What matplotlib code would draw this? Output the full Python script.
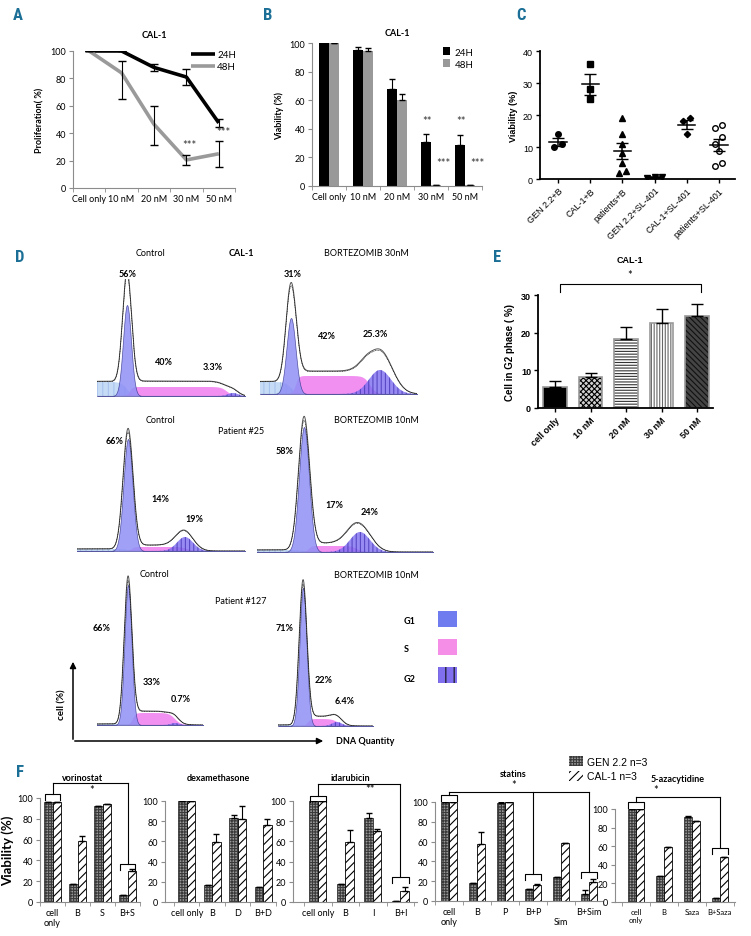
import numpy as np
import matplotlib.pyplot as plt
from matplotlib.patches import Patch, Rectangle

plt.rcParams['font.family'] = ['Lato', 'DejaVu Sans']
plt.rcParams['font.size'] = 6.5
plt.rcParams['hatch.linewidth'] = 0.8

# ---------------- data ----------------
doses = ['Cell only', '10 nM', '20 nM', '30 nM', '50 nM']

# A - proliferation
prolif_24h = [100, 100, 88, 81, 47.5]
prolif_24h_err = [0, 0, 2.5, 5.5, 3]
prolif_48h = [100, 84, 46.5, 20.5, 25]
prolif_48h_lo = [0, 19, 15, 4, 10]
prolif_48h_hi = [0, 9, 13.5, 3.5, 9.5]

# B - viability
viab_24h = [100, 95, 68, 31, 28.5]
viab_24h_err = [0, 2.5, 7, 5.5, 7]
viab_48h = [100, 94.5, 60, 1, 1]
viab_48h_err = [0, 2, 4.5, 0, 0]

# C - scatter
c_groups = ['GEN 2.2+B', 'CAL-1+B', 'patients+B', 'GEN 2.2+SL-401', 'CAL-1+SL-401', 'patients+SL-401']
c_gen_b = [14, 10, 11]
c_cal_b = [36, 28, 25]
c_pat_b = [19, 14, 11, 8, 5, 1.8, 2.4]
c_gen_sl = [0.6, 0.3, 0.6]
c_cal_sl = [19, 18, 14]
c_pat_sl = [17, 16, 13, 11, 8.75, 5, 4]

# D - cell cycle histograms (channel / counts)
hist_g1_pos = [30, 31, 51, 47, 31, 25]
hist_g1_sig = [4, 4.5, 4.5, 5, 3.5, 3.5]
hist_g1_fill = [91, 76, 112, 125, 140, 138]
hist_g1_line = [112, 101, 120, 133, 146, 144]
hist_s_fill = [9, 18, 4, 6, 12, 7]
hist_s_line = [15, 23, 6, 9, 14, 10]
hist_s_from = [33, 36, 55, 52, 36, 30]
hist_s_to = [130, 110, 110, 100, 78, 60]
hist_g2_pos = [136, 120, 108, 103, 78, 59]
hist_g2_fill = [3, 24, 14, 20, 2, 4]
hist_g2_line = [5, 43, 17, 26, 3, 5]
hist_g2_sig = [5, 11, 8, 10, 4, 5]
hist_debris = [14, 12, 2, 2, 1, 1]

# E - G2 phase
g2_phase = [5.6, 8.2, 18.2, 22.5, 24.5]
g2_phase_err = [1.5, 1.1, 3.4, 3.8, 3.1]
e_labels = ['cell only', '10 nM', '20 nM', '30 nM', '50 nM']

# F - drug combinations
vor_labels = ['cell\nonly', 'B', 'S', 'B+S']
vor_gen = [96, 17, 92, 7]
vor_cal = [96, 59, 94, 30]
vor_gen_err = [0, 0, 0, 0]
vor_cal_err = [0, 4, 0, 2]

dex_labels = ['cell only', 'B', 'D', 'B+D']
dex_gen = [100, 17, 83, 15]
dex_cal = [100, 59, 82, 76]
dex_gen_err = [0, 0, 3, 0]
dex_cal_err = [0, 8, 13, 6]

ida_labels = ['cell only', 'B', 'I', 'B+I']
ida_gen = [100, 18, 83, 0.5]
ida_cal = [100, 59, 70, 11]
ida_gen_err = [0, 0, 5, 0]
ida_cal_err = [0, 12, 2, 4]

sta_labels = ['cell\nonly', 'B', 'P', 'B+P', '\nSim', 'B+Sim']
sta_gen = [100, 18, 99, 12, 24, 7]
sta_cal = [100, 58, 100, 16, 59, 19]
sta_gen_err = [0, 0, 1, 0, 0, 4]
sta_cal_err = [0, 12, 0, 1, 0, 3]

aza_labels = ['cell\nonly', 'B', 'Saza', 'B+Saza']
aza_gen = [100, 28, 91, 4]
aza_cal = [100, 59, 87, 48]
aza_gen_err = [0, 0, 1, 0]
aza_cal_err = [0, 0, 0, 0]

# ---------------- figure ----------------
W, H = 751, 937
fig = plt.figure(figsize=(7.51, 9.37), dpi=100)
teal = '#1b6f96'


def px_axes(x0, y0, x1, y1):
    return fig.add_axes([x0 / W, 1 - y1 / H, (x1 - x0) / W, (y1 - y0) / H])


def excel_style(ax, n, labels, fs=6.5):
    for s in ['top', 'right']:
        ax.spines[s].set_visible(False)
    for s in ['left', 'bottom']:
        ax.spines[s].set_color('#8c8c8c')
        ax.spines[s].set_linewidth(0.8)
    ax.set_xticks(range(n))
    ax.set_xticklabels(labels, fontsize=fs)
    ax.set_xticks(np.arange(n + 1) - 0.5, minor=True)
    ax.tick_params(axis='x', which='major', length=0, pad=4)
    ax.tick_params(axis='x', which='minor', length=3, color='#8c8c8c')
    ax.tick_params(axis='y', length=3, color='#8c8c8c', labelsize=fs, pad=2)


# ---- A ----
ax = px_axes(73, 52, 235, 189)
x = np.arange(len(doses))
ax.plot(x, prolif_24h, color='black', lw=2.6, label='24H', solid_capstyle='butt')
ax.plot(x, prolif_48h, color='#9a9a9a', lw=2.6, label='48H', solid_capstyle='butt')
ax.errorbar(x, prolif_24h, yerr=prolif_24h_err, fmt='none', ecolor='black', elinewidth=0.8, capsize=3)
ax.errorbar(x, prolif_48h, yerr=[prolif_48h_lo, prolif_48h_hi], fmt='none', ecolor='black',
            elinewidth=0.8, capsize=3)
ax.set_xlim(-0.5, 4.5)
ax.set_ylim(0, 100)
ax.set_yticks(range(0, 101, 20))
excel_style(ax, 5, doses)
ax.set_ylabel('Proliferation( %)', fontweight='bold', fontsize=6.5)
ax.set_title('CAL-1', fontweight='bold', fontsize=6.5, pad=10)
ax.text(3.1, 31.5, '***', ha='center', va='center', fontsize=8, color='#333')
ax.text(4.15, 41, '***', ha='center', va='center', fontsize=8, color='#333')
ax.legend(loc='upper right', bbox_to_anchor=(1.06, 1.07), frameon=False, handlelength=2.5,
          fontsize=7, labelspacing=0.3, handletextpad=0.2)

# ---- B ----
ax = px_axes(312, 44, 482, 187)
bw = 0.3
ax.bar(x - bw / 2, viab_24h, bw, color='black', label='24H')
ax.bar(x + bw / 2, viab_48h, bw, color='#999999', label='48H')
ax.errorbar(x - bw / 2, viab_24h, yerr=[[0] * 5, viab_24h_err], fmt='none', ecolor='black',
            elinewidth=0.8, capsize=2.5)
ax.errorbar(x + bw / 2, viab_48h, yerr=[[0] * 5, viab_48h_err], fmt='none', ecolor='black',
            elinewidth=0.8, capsize=2.5)
ax.set_xlim(-0.5, 4.5)
ax.set_ylim(0, 100)
ax.set_yticks(range(0, 101, 20))
excel_style(ax, 5, doses)
ax.set_ylabel('Viability (%)', fontweight='bold', fontsize=6.5)
ax.set_title('CAL-1', fontweight='bold', fontsize=6.5, pad=6)
for xi in [3, 4]:
    ax.text(xi - 0.12, 45.5, '**', ha='center', va='center', fontsize=8, color='#333')
    ax.text(xi + 0.38, 16.4, '***', ha='center', va='center', fontsize=8, color='#333')
ax.legend(loc='upper right', bbox_to_anchor=(1.0, 1.03), frameon=False, handlelength=0.8,
          handleheight=0.8, fontsize=7, labelspacing=0.3, handletextpad=0.4)

# ---- C ----
ax = px_axes(540, 52, 735, 180)
c_data = [c_gen_b, c_cal_b, c_pat_b, c_gen_sl, c_cal_sl, c_pat_sl]
c_marks = [dict(marker='o', color='black'), dict(marker='s', color='black'),
           dict(marker='^', color='black'), dict(marker='v', color='black'),
           dict(marker='D', color='black', markersize=3.2),
           dict(marker='o', markerfacecolor='white', markeredgecolor='black', markeredgewidth=1)]
for i, vals in enumerate(c_data):
    vals = np.array(vals, dtype=float)
    order = np.argsort(vals)
    offs = np.zeros(len(vals))
    groups, cur = [], [order[0]]
    for j in order[1:]:
        if vals[j] - vals[cur[-1]] <= 2:
            cur.append(j)
        else:
            groups.append(cur)
            cur = [j]
    groups.append(cur)
    for g in groups:
        for k, j in enumerate(g):
            offs[j] = (k - (len(g) - 1) / 2) * 0.22
    style = dict(markersize=4, linestyle='none')
    style.update(c_marks[i])
    ax.plot(i + offs, vals, **style)
    m = vals.mean()
    sem = vals.std(ddof=1) / np.sqrt(len(vals))
    ax.plot([i - 0.27, i + 0.27], [m, m], color='black', lw=1.1)
    ax.errorbar(i, m, yerr=sem, fmt='none', ecolor='black', elinewidth=1.1, capsize=4)
ax.set_xlim(-0.56, 5.5)
ax.set_ylim(0, 40)
ax.set_yticks(range(0, 41, 10))
for s in ['top', 'right']:
    ax.spines[s].set_visible(False)
for s in ['left', 'bottom']:
    ax.spines[s].set_linewidth(1.3)
ax.set_xticks(range(6))
ax.set_xticklabels(c_groups, rotation=45, ha='right', rotation_mode='anchor',
                   fontsize=6.5, family=['Liberation Sans'])
ax.tick_params(axis='both', length=3, width=1, labelsize=6.5, pad=2)
for lab in ax.get_yticklabels():
    lab.set_family(['Liberation Sans'])
ax.set_ylabel('Viability (%)', fontweight='bold', fontsize=6.5, family=['Liberation Sans'])

# ---- D ----
hist_boxes = [(97, 280, 245, 397), (260, 280, 417, 395), (77, 425, 245, 552),
              (257, 415, 433, 553), (97, 575, 203, 726), (278, 580, 373, 727)]
for i, (x0, y0, x1, y1) in enumerate(hist_boxes):
    hx = px_axes(x0, y0, x1, y1)
    ch = np.linspace(0, x1 - x0, 600)

    def gauss(h, p, s):
        return h * np.exp(-0.5 * ((ch - p) / s) ** 2)

    def plateau(a, b, k1, k2):
        return 1 / (1 + np.exp(-(ch - a) / k1)) / (1 + np.exp((ch - b) / k2))

    g1 = gauss(hist_g1_fill[i], hist_g1_pos[i], hist_g1_sig[i])
    g1o = gauss(hist_g1_line[i], hist_g1_pos[i], hist_g1_sig[i] * 1.1)
    sp = hist_s_fill[i] * plateau(hist_s_from[i], hist_s_to[i], 1.5, 3)
    spo = hist_s_line[i] * plateau(hist_s_from[i] - 2, hist_s_to[i], 2, 4)
    g2 = gauss(hist_g2_fill[i], hist_g2_pos[i], hist_g2_sig[i])
    g2o = gauss(hist_g2_line[i], hist_g2_pos[i], hist_g2_sig[i] * 1.1)
    deb = hist_debris[i] * plateau(-10, hist_g1_pos[i], 1, 3)
    hx.fill_between(ch, deb, facecolor='#c6dcf6', hatch='|||', edgecolor='#a8c2ee', lw=0)
    hx.fill_between(ch, sp, facecolor='#f07df0', alpha=0.85, lw=0)
    hx.fill_between(ch, g2, facecolor='#7d6ef0', alpha=0.8, hatch='||||', edgecolor='#4a38b8', lw=0)
    hx.fill_between(ch, g1, facecolor='#8f8ff5', alpha=0.85, edgecolor='#3a3a90', lw=0.5)
    outline = g1o + spo + g2o + deb * 1.05
    hx.plot(ch, outline, color='#555555', lw=0.7)
    hx.plot(ch, outline * 0.97, color='black', lw=0.4, ls=(0, (2, 1)))
    hx.axhline(0, color='#555555', lw=0.8)
    hx.set_xlim(0, x1 - x0)
    hx.set_ylim(0, y1 - y0)
    hx.axis('off')

# ---- E ----
ax = px_axes(538, 296, 713, 409)
xe = np.arange(5)
e_styles = [dict(facecolor='black', edgecolor='black'),
            dict(facecolor='#d0d0d0', hatch='xxxxxx', edgecolor='black'),
            dict(facecolor='white', hatch='------', edgecolor='#333333'),
            dict(facecolor='white', hatch='||||||', edgecolor='#666666'),
            dict(facecolor='#444444', hatch='\\\\\\\\\\\\', edgecolor='#111111')]
for i in range(5):
    ax.bar(xe[i], g2_phase[i], 0.67, lw=0, **e_styles[i])
    ax.bar(xe[i], g2_phase[i], 0.67, fill=False, edgecolor='#9a9a9a', lw=1.2)
ax.errorbar(xe, g2_phase, yerr=[[0] * 5, g2_phase_err], fmt='none', ecolor='black',
            elinewidth=1, capsize=4)
ax.set_xlim(-0.48, 4.45)
ax.set_ylim(0, 30)
ax.set_yticks([0, 10, 20, 30])
for s in ['top', 'right']:
    ax.spines[s].set_visible(False)
for s in ['left', 'bottom']:
    ax.spines[s].set_linewidth(1.3)
ax.set_xticks(xe)
ax.set_xticklabels(e_labels, rotation=45, ha='right', rotation_mode='anchor', fontweight='bold',
                   fontsize=6.5, family=['Liberation Sans'])
ax.tick_params(axis='both', length=3, width=1, labelsize=6.5, pad=2)
for lab in ax.get_yticklabels():
    lab.set_family(['Liberation Sans'])
    lab.set_fontweight('bold')
ax.set_ylabel('Cell in G2 phase ( %)', fontweight='bold', fontsize=7, family=['Liberation Sans'])
ax.plot([0.15, 0.15, 4.1, 4.1], [30.8, 32.9, 32.9, 30.8], color='black', lw=0.8, clip_on=False)
ax.text(2.1, 35.5, '*', ha='center', va='center', fontsize=8)
ax.text(2.1, 39.5, 'CAL-1', ha='center', va='center', fontweight='bold', fontsize=6.5,
        family=['Liberation Sans'])

# ---- F ----
f_panels = [
    (vor_labels, vor_gen, vor_cal, vor_gen_err, vor_cal_err, (40, 799, 140, 903), (-0.5, 3.5), 0.33),
    (dex_labels, dex_gen, dex_cal, dex_gen_err, dex_cal_err, (165, 802, 276, 903), (-0.85, 3.5), 0.33),
    (ida_labels, ida_gen, ida_cal, ida_gen_err, ida_cal_err, (293, 802, 417, 903), (-0.9, 3.6), 0.31),
    (sta_labels, sta_gen, sta_cal, sta_gen_err, sta_cal_err, (435, 803, 603, 902), (-0.5, 5.5), 0.27),
    (aza_labels, aza_gen, aza_cal, aza_gen_err, aza_cal_err, (615, 810, 735, 903), (-0.75, 3.54), 0.3),
]
f_axes = []
for labels, gen, cal, gerr, cerr, box, xl, w in f_panels:
    ax = px_axes(*box)
    n = len(labels)
    xf = np.arange(n)
    ax.bar(xf - w / 2, gen, w, facecolor='#9a9a9a', hatch='++++++', edgecolor='#3a3a3a', lw=0.6)
    ax.bar(xf + w / 2, cal, w, facecolor='white', hatch='////', edgecolor='black', lw=0.6)
    ax.errorbar(xf - w / 2, gen, yerr=[[0] * n, gerr], fmt='none', ecolor='black', elinewidth=0.8,
                capsize=2)
    ax.errorbar(xf + w / 2, cal, yerr=[[0] * n, cerr], fmt='none', ecolor='black', elinewidth=0.8,
                capsize=2)
    ax.set_xlim(*xl)
    ax.set_ylim(0, 100)
    ax.set_yticks(range(0, 101, 20))
    excel_style(ax, n, labels, fs=6.5)
    f_axes.append(ax)
f_axes[0].set_ylabel('Viability (%)', fontweight='bold', fontsize=9.5, labelpad=2)
for lab in f_axes[4].get_xticklabels():
    lab.set_fontsize(5.5)


def bracket(ax, yl, top, rights, half=0.3, drop=6):
    kw = dict(color='black', lw=0.8, clip_on=False)
    ax.plot([-half, -half, half, half], [yl - drop, yl, yl, yl - drop], **kw)
    ax.plot([0, 0], [yl, top], **kw)
    ax.plot([0, max(r[0] for r in rights)], [top, top], **kw)
    for xr, yr in rights:
        ax.plot([xr, xr], [top, yr], **kw)
        ax.plot([xr - half, xr - half, xr + half, xr + half], [yr - drop, yr, yr, yr - drop], **kw)


bracket(f_axes[0], 104, 114, [(3, 37)])
f_axes[0].text(1.57, 108.5, '*', ha='center', va='center', fontsize=8)
bracket(f_axes[2], 105, 117, [(3, 25)])
f_axes[2].text(1.9, 112, '**', ha='center', va='center', fontsize=8)
bracket(f_axes[3], 107, 110, [(3, 27), (5, 29)])
f_axes[3].text(2.3, 118, '*', ha='center', va='center', fontsize=8)
bracket(f_axes[4], 107.5, 113, [(3, 58)])
f_axes[4].text(0.7, 121, '*', ha='center', va='center', fontsize=8)

fig.legend(handles=[Patch(facecolor='#9a9a9a', hatch='++++++', edgecolor='#3a3a3a', lw=0),
                    Patch(facecolor='white', hatch='////', edgecolor='black', lw=0)],
           labels=['GEN 2.2 n=3', 'CAL-1 n=3'], loc='upper left',
           bbox_to_anchor=(560 / W, 1 - 748 / H), frameon=False, handlelength=1.3,
           handleheight=1.1, handletextpad=0.4, labelspacing=0.35,
           prop={'family': ['Liberation Sans'], 'size': 7.5})

# ---------------- overlay text ----------------
ov = fig.add_axes([0, 0, 1, 1])
ov.set_xlim(0, W)
ov.set_ylim(H, 0)
ov.axis('off')

for lab, px, py in [('A', 18, 16), ('B', 268, 16), ('C', 521, 16), ('D', 20, 258),
                    ('E', 497, 258), ('F', 20, 773)]:
    ov.text(px, py, lab, color=teal, fontsize=12, fontweight='bold', ha='center', va='center',
            family=['Roboto Condensed', 'Roboto', 'DejaVu Sans'])

d_plain = [('Control', 150, 254), ('BORTEZOMIB 30nM', 366, 254),
           ('Control', 160, 421), ('Patient #25', 241, 432), ('BORTEZOMIB 10nM', 376, 421),
           ('Control', 155, 575), ('BORTEZOMIB 10nM', 376, 576), ('Patient #127', 241, 602)]
for t, px, py in d_plain:
    ov.text(px, py, t, ha='center', va='center', fontsize=6.5)
d_bold = [('CAL-1', 241, 254), ('56%', 128, 275), ('40%', 164, 363), ('3.3%', 213, 368),
          ('31%', 293, 275), ('42%', 327, 337), ('25.3%', 375, 335),
          ('66%', 115, 442), ('14%', 160, 500), ('19%', 194, 520),
          ('58%', 285, 452), ('17%', 334, 506), ('24%', 370, 513),
          ('66%', 102, 629), ('33%', 152, 683), ('0.7%', 181, 700),
          ('71%', 285, 629), ('22%', 324, 681), ('6.4%', 345, 702),
          ('G1', 410, 622), ('S', 406, 650), ('G2', 410, 680),
          ('DNA Quantity', 365, 742)]
for t, px, py in d_bold:
    ov.text(px, py, t, ha='center', va='center', fontsize=6.5, fontweight='bold')
ov.text(62, 705, 'cell (%)', rotation=90, ha='center', va='center', fontsize=7, fontweight='bold')
ov.annotate('', xy=(73, 660), xytext=(73, 743),
            arrowprops=dict(arrowstyle='-|>', color='black', lw=1.1, mutation_scale=9))
ov.annotate('', xy=(326, 742), xytext=(72, 742),
            arrowprops=dict(arrowstyle='-|>', color='black', lw=1.1, mutation_scale=9))
ov.add_patch(Rectangle((438, 612), 19, 16, facecolor='#6f7cf0', lw=0))
ov.add_patch(Rectangle((438, 640), 19, 16, facecolor='#f48ee6', lw=0))
ov.add_patch(Rectangle((438, 668), 19, 16, facecolor='#8070f0', hatch='||', edgecolor='#111111', lw=0))

for t, px, py in [('vorinostat', 83, 779), ('dexamethasone', 218, 779), ('idarubicin', 350, 779),
                  ('statins', 513, 775), ('5-azacytidine', 678, 780)]:
    ov.text(px, py, t, ha='center', va='center', fontsize=6.5, fontweight='bold')

fig.savefig('out.png', dpi=100)
